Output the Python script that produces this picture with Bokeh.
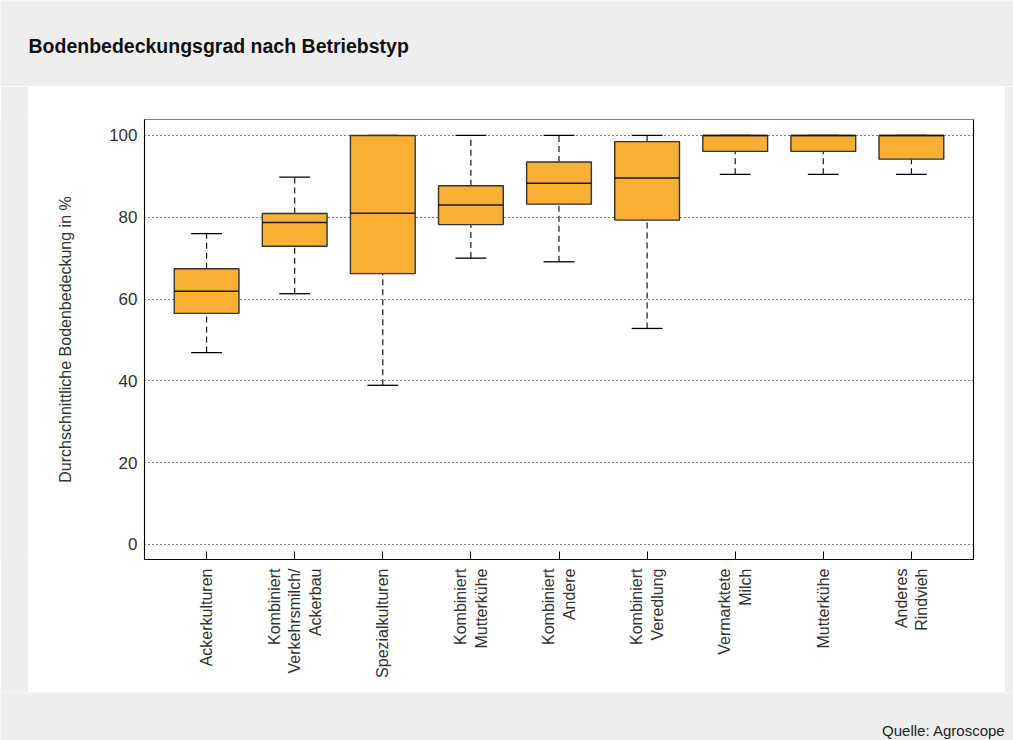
import numpy as np
from bokeh.plotting import figure
from bokeh.layouts import column, row
from bokeh.models import (Range1d, FixedTicker, LinearAxis, Label, ColumnDataSource)
from bokeh.embed import file_html
from bokeh.resources import INLINE

# ---- data ----
categories = [
    "Ackerkulturen",
    "Kombiniert\nVerkehrsmilch/\nAckerbau",
    "Spezialkulturen",
    "Kombiniert\nMutterkühe",
    "Kombiniert\nAndere",
    "Kombiniert\nVeredlung",
    "Vermarktete\nMilch",
    "Mutterkühe",
    "Anderes\nRindvieh",
]
lower_whisker = [46.9, 61.3, 38.9, 70.0, 69.1, 52.8, 90.5, 90.5, 90.5]
q1 = [56.5, 72.9, 66.2, 78.2, 83.2, 79.3, 96.1, 96.1, 94.2]
median = [61.9, 78.7, 81.0, 83.0, 88.3, 89.6, 100.0, 100.0, 100.0]
q3 = [67.4, 80.9, 100.0, 87.7, 93.5, 98.5, 100.0, 100.0, 100.0]
upper_whisker = [76.0, 89.8, 100.0, 100.0, 100.0, 100.0, 100.0, 100.0, 100.0]
y_ticks = [0, 20, 40, 60, 80, 100]
title_text = "Bodenbedeckungsgrad nach Betriebstyp"
source_text = "Quelle: Agroscope"

# ---- layout constants ----
W, H = 1013, 740
PL, PR, PT, PB = 28, 1004, 86, 692      # white panel edges (page px)
FL, FR, FT, FB = 144, 973, 119, 559     # plot frame edges (page px)
BOX_W = 0.735
CAP_W = 0.35
FONT = "Liberation Sans"
TXT = "#333333"
GRAY = "#EEEEEE"


def blank(w, h):
    f = figure(width=w, height=h, output_backend="svg", toolbar_location=None,
               x_axis_location=None, y_axis_location=None,
               x_range=Range1d(0, 1), y_range=Range1d(0, 1),
               min_border=0)
    f.border_fill_color = GRAY
    f.background_fill_color = GRAY
    f.outline_line_color = None
    f.grid.visible = False
    return f


xpos = np.arange(1, len(categories) + 1, dtype=float)
src = ColumnDataSource(dict(
    x=xpos, lo=lower_whisker, q1=q1, med=median, q3=q3, hi=upper_whisker,
    bx0=xpos - BOX_W / 2, bx1=xpos + BOX_W / 2,
    cx0=xpos - CAP_W / 2, cx1=xpos + CAP_W / 2,
))

p = figure(width=PR - PL, height=PB - PT, output_backend="svg", toolbar_location=None,
           x_range=Range1d(0.295, 9.705), y_range=Range1d(-3.7, 103.9),
           min_border_left=FL - PL, min_border_right=PR - FR,
           min_border_top=FT - PT, min_border_bottom=PB - FB)
p.border_fill_color = "white"
p.background_fill_color = "white"
p.outline_line_color = "#808080"
p.outline_line_width = 1.2

# grid
p.xgrid.visible = False
p.ygrid.ticker = FixedTicker(ticks=y_ticks)
p.ygrid.grid_line_color = "black"
p.ygrid.grid_line_dash = "1 3"
p.ygrid.grid_line_width = 1

# axes
xa = p.xaxis[0]
xa.ticker = FixedTicker(ticks=list(xpos))
xa.major_label_overrides = {float(x): c for x, c in zip(xpos, categories)}
xa.major_label_orientation = np.pi / 2
xa.major_tick_in = 8
xa.major_tick_out = 0
xa.minor_tick_line_color = None
xa.major_tick_line_color = "black"
xa.axis_line_color = "black"
xa.major_label_standoff = 9
xa.major_label_text_font = FONT
xa.major_label_text_font_size = "16px"
xa.major_label_text_color = TXT

ya = p.yaxis[0]
ya.ticker = FixedTicker(ticks=y_ticks)
ya.major_tick_line_color = None
ya.minor_tick_line_color = None
ya.major_tick_in = 0
ya.major_tick_out = 0
ya.axis_line_color = "black"
ya.major_label_standoff = 7
ya.major_label_text_font = FONT
ya.major_label_text_font_size = "17px"
ya.major_label_text_color = TXT
ya.axis_label = "Durchschnittliche Bodenbedeckung in %"
ya.axis_label_text_font = FONT
ya.axis_label_text_font_size = "16px"
ya.axis_label_text_font_style = "normal"
ya.axis_label_text_color = TXT
ya.axis_label_standoff = 32

ra = LinearAxis(major_tick_line_color=None, minor_tick_line_color=None,
                major_label_text_color=None, axis_line_color="black",
                ticker=FixedTicker(ticks=[]))
p.add_layout(ra, "right")

# whiskers
p.segment(x0="x", y0="q3", x1="x", y1="hi", source=src, line_color="black",
          line_dash="6 4", line_width=1.1)
p.segment(x0="x", y0="lo", x1="x", y1="q1", source=src, line_color="black",
          line_dash="6 4", line_width=1.1)
p.segment(x0="cx0", y0="hi", x1="cx1", y1="hi", source=src, line_color="black", line_width=1.3)
p.segment(x0="cx0", y0="lo", x1="cx1", y1="lo", source=src, line_color="black", line_width=1.3)

# boxes
p.vbar(x="x", width=BOX_W, bottom="q1", top="q3", source=src,
       fill_color="#F8AF33", line_color="#333333", line_width=1.4)
p.segment(x0="bx0", y0="med", x1="bx1", y1="med", source=src, line_color="#1a1a1a", line_width=1.5)

# surrounding gray frame with title and source
top = blank(W, PT)
top.add_layout(Label(x=PL, y=PT - 45, x_units="screen", y_units="screen",
                     text=title_text, text_font=FONT,
                     text_font_size="19.5px", text_font_style="bold", text_color="#111111",
                     text_baseline="alphabetic", text_align="left"))
bottom = blank(W, H - PB)
bottom.add_layout(Label(x=1005, y=(H - PB) - (730 - PB), x_units="screen", y_units="screen",
                        text=source_text, text_font=FONT,
                        text_font_size="15px", text_color="#222222",
                        text_baseline="alphabetic", text_align="right"))
left = blank(PL, PB - PT)
right = blank(W - PR, PB - PT)

layout = column(top, row(left, p, right, spacing=0), bottom, spacing=0)

open("out.html", "w").write(file_html(layout, INLINE))
